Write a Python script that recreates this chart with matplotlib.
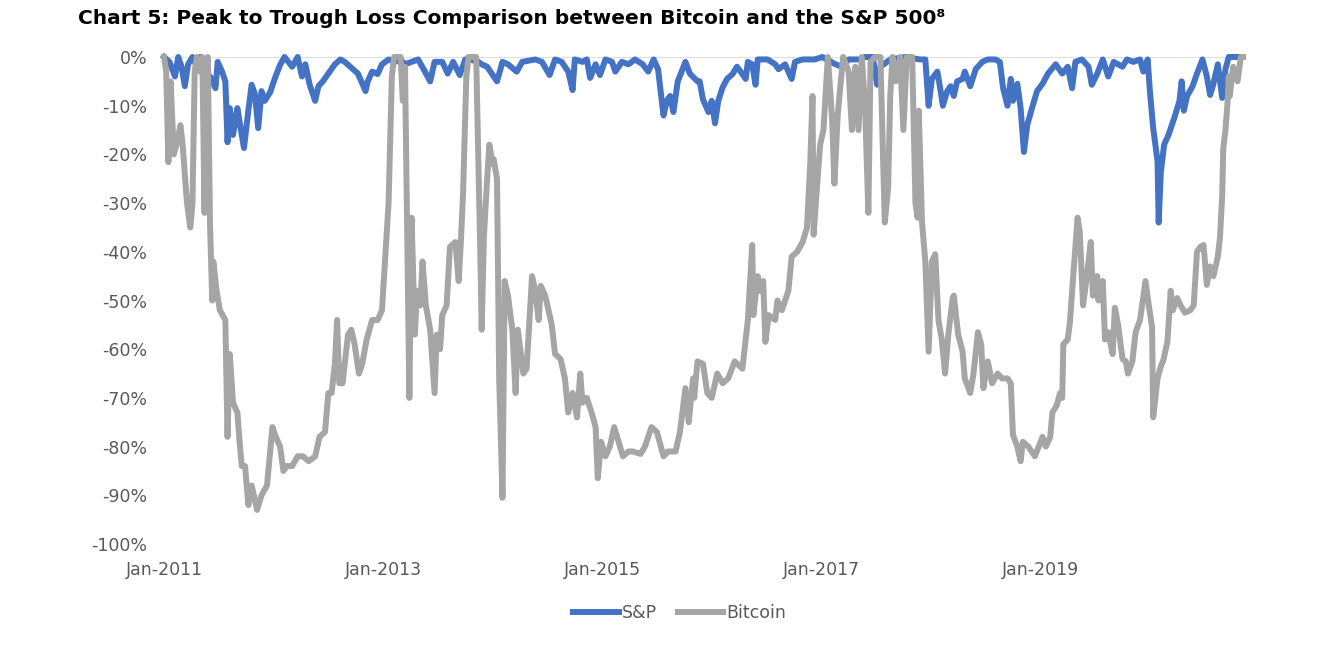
import matplotlib.pyplot as plt

# x values are decimal years, values are drawdown in %
sp_dates = [2011.00, 2011.05, 2011.10, 2011.13, 2011.16, 2011.19, 2011.22, 2011.26, 2011.30, 2011.33,
            2011.37, 2011.42, 2011.47, 2011.49, 2011.53, 2011.56, 2011.58, 2011.60, 2011.63, 2011.67,
            2011.69, 2011.73, 2011.77, 2011.80, 2011.83, 2011.86, 2011.89, 2011.92, 2011.97, 2012.01,
            2012.06, 2012.10, 2012.17, 2012.22, 2012.26, 2012.29, 2012.33, 2012.38, 2012.41, 2012.45,
            2012.50, 2012.56, 2012.61, 2012.65, 2012.70, 2012.77, 2012.84, 2012.86, 2012.90, 2012.95,
            2012.99, 2013.05, 2013.11, 2013.16, 2013.20, 2013.26, 2013.32, 2013.37, 2013.43, 2013.47,
            2013.54, 2013.59, 2013.64, 2013.70, 2013.75, 2013.79, 2013.87, 2013.90, 2013.95, 2014.04,
            2014.09, 2014.14, 2014.22, 2014.27, 2014.39, 2014.45, 2014.52, 2014.57, 2014.63, 2014.69,
            2014.73, 2014.75, 2014.82, 2014.86, 2014.89, 2014.94, 2014.98, 2015.03, 2015.09, 2015.12,
            2015.18, 2015.24, 2015.30, 2015.37, 2015.42, 2015.47, 2015.51, 2015.56, 2015.59, 2015.62,
            2015.65, 2015.69, 2015.76, 2015.80, 2015.87, 2015.89, 2015.92, 2015.97, 2016.00, 2016.03,
            2016.06, 2016.10, 2016.14, 2016.19, 2016.23, 2016.28, 2016.31, 2016.33, 2016.37, 2016.40,
            2016.42, 2016.51, 2016.58, 2016.61, 2016.67, 2016.73, 2016.76, 2016.83, 2016.88, 2016.94,
            2017.01, 2017.13, 2017.19, 2017.25, 2017.36, 2017.40, 2017.47, 2017.51, 2017.54, 2017.63,
            2017.77, 2017.90, 2017.95, 2017.98, 2018.01, 2018.06, 2018.09, 2018.11, 2018.15, 2018.18,
            2018.21, 2018.24, 2018.29, 2018.31, 2018.36, 2018.41, 2018.47, 2018.52, 2018.59, 2018.63,
            2018.66, 2018.70, 2018.73, 2018.75, 2018.79, 2018.82, 2018.85, 2018.88, 2018.93, 2018.97,
            2019.02, 2019.07, 2019.14, 2019.20, 2019.25, 2019.29, 2019.32, 2019.38, 2019.44, 2019.47,
            2019.52, 2019.57, 2019.62, 2019.67, 2019.75, 2019.79, 2019.85, 2019.91, 2019.94, 2019.98,
            2020.00, 2020.03, 2020.07, 2020.08, 2020.10, 2020.13, 2020.17, 2020.20, 2020.23, 2020.27,
            2020.29, 2020.31, 2020.34, 2020.39, 2020.43, 2020.48, 2020.52, 2020.55, 2020.58, 2020.62,
            2020.66, 2020.69, 2020.72, 2020.85]
sp_values = [0, -1, -4, 0, -2, -6, -1.5, 0, -2, 0,
             -3, -4, -6.4, -1, -3, -5, -17.5, -10.5, -16, -10.5,
             -13.3, -18.7, -11, -5.7, -7.6, -14.6, -7, -9, -7.2, -4.5,
             -1.6, 0, -2, 0, -4, -1.5, -5.7, -9, -6, -5,
             -3.4, -1.5, -0.5, -1, -2, -3.4, -7, -5, -3, -3.5,
             -1.5, -0.5, -1, -0.5, -1.5, -1, -0.5, -2.5, -5, -1,
             -1, -3.4, -1, -3.7, -0.5, -0.5, -1, -1.5, -2, -5,
             -1, -1.5, -3, -1, -0.5, -1, -3.7, -0.5, -1, -3,
             -6.8, -0.5, -1, -0.5, -4.3, -1.5, -3.7, -0.5, -1, -3,
             -1, -1.5, -0.5, -1.5, -3, -0.5, -2.5, -12, -9, -8,
             -11.3, -5, -1, -3.4, -5, -5, -8.7, -11.3, -9, -13.6,
             -9, -6.2, -4.5, -3.5, -2, -3.5, -4.5, -1, -1.5, -5.7,
             -0.5, -0.5, -1.5, -2.5, -1.5, -4.5, -1, -0.5, -0.5, -0.5,
             0, -1.5, -2, -0.5, -0.5, 0, 0, -5.7, -2, -0.5,
             0, -0.5, -0.5, -10, -4.5, -3, -7, -10, -7, -6,
             -8, -5, -4.5, -3, -6, -2.5, -1, -0.5, -0.5, -1,
             -6.4, -10, -4.5, -9, -5.5, -10.5, -19.5, -14, -10, -7,
             -5.5, -3.4, -1.5, -3.4, -2, -6.4, -1, -0.5, -2, -5.7,
             -3.4, -0.5, -4, -1, -2, -0.5, -1, -0.5, -3, -0.5,
             -7, -14.6, -21.4, -34, -23.6, -18, -16, -14, -12, -9,
             -5, -11, -8, -6, -3.4, -0.5, -4, -7.8, -5.5, -1.5,
             -8.4, -2.5, 0, 0]

btc_dates = [2011.00, 2011.02, 2011.04, 2011.06, 2011.09, 2011.12, 2011.15, 2011.17, 2011.21, 2011.24,
             2011.26, 2011.28, 2011.30, 2011.33, 2011.35, 2011.37, 2011.38, 2011.40, 2011.42, 2011.44,
             2011.45, 2011.48, 2011.51, 2011.56, 2011.58, 2011.60, 2011.63, 2011.67, 2011.69, 2011.71,
             2011.74, 2011.77, 2011.80, 2011.85, 2011.89, 2011.94, 2011.99, 2012.02, 2012.06, 2012.09,
             2012.12, 2012.17, 2012.22, 2012.27, 2012.32, 2012.38, 2012.42, 2012.47, 2012.50, 2012.53,
             2012.56, 2012.58, 2012.60, 2012.63, 2012.68, 2012.71, 2012.74, 2012.78, 2012.81, 2012.85,
             2012.90, 2012.95, 2012.99, 2013.02, 2013.05, 2013.08, 2013.10, 2013.16, 2013.18, 2013.20,
             2013.24, 2013.26, 2013.29, 2013.31, 2013.34, 2013.36, 2013.39, 2013.43, 2013.47, 2013.49,
             2013.52, 2013.54, 2013.58, 2013.61, 2013.66, 2013.69, 2013.71, 2013.73, 2013.76, 2013.78,
             2013.85, 2013.89, 2013.90, 2013.92, 2013.95, 2013.97, 2014.00, 2014.01, 2014.04, 2014.06,
             2014.09, 2014.11, 2014.14, 2014.18, 2014.21, 2014.23, 2014.28, 2014.31, 2014.36, 2014.39,
             2014.42, 2014.44, 2014.48, 2014.51, 2014.54, 2014.57, 2014.62, 2014.66, 2014.69, 2014.73,
             2014.77, 2014.80, 2014.82, 2014.86, 2014.91, 2014.94, 2014.96, 2014.99, 2015.03, 2015.07,
             2015.11, 2015.15, 2015.19, 2015.24, 2015.28, 2015.35, 2015.39, 2015.45, 2015.50, 2015.56,
             2015.60, 2015.67, 2015.71, 2015.76, 2015.79, 2015.83, 2015.84, 2015.87, 2015.92, 2015.96,
             2016.00, 2016.05, 2016.10, 2016.15, 2016.21, 2016.28, 2016.31, 2016.33, 2016.37, 2016.38,
             2016.42, 2016.44, 2016.47, 2016.49, 2016.52, 2016.58, 2016.60, 2016.64, 2016.70, 2016.73,
             2016.78, 2016.83, 2016.87, 2016.90, 2016.92, 2016.93, 2016.96, 2016.99, 2017.02, 2017.05,
             2017.06, 2017.10, 2017.12, 2017.15, 2017.17, 2017.20, 2017.25, 2017.28, 2017.31, 2017.34,
             2017.37, 2017.40, 2017.43, 2017.45, 2017.49, 2017.54, 2017.58, 2017.61, 2017.63, 2017.65,
             2017.68, 2017.72, 2017.75, 2017.78, 2017.83, 2017.86, 2017.88, 2017.89, 2017.92, 2017.95,
             2017.98, 2018.01, 2018.04, 2018.07, 2018.10, 2018.13, 2018.16, 2018.20, 2018.21, 2018.25,
             2018.29, 2018.31, 2018.36, 2018.39, 2018.43, 2018.46, 2018.48, 2018.52, 2018.56, 2018.61,
             2018.65, 2018.70, 2018.73, 2018.75, 2018.79, 2018.82, 2018.84, 2018.89, 2018.95, 2019.02,
             2019.05, 2019.09, 2019.11, 2019.15, 2019.18, 2019.20, 2019.21, 2019.25, 2019.27, 2019.30,
             2019.34, 2019.36, 2019.39, 2019.43, 2019.46, 2019.48, 2019.52, 2019.53, 2019.57, 2019.59,
             2019.62, 2019.66, 2019.68, 2019.71, 2019.75, 2019.78, 2019.80, 2019.84, 2019.87, 2019.91,
             2019.96, 2019.99, 2020.02, 2020.03, 2020.07, 2020.10, 2020.12, 2020.16, 2020.19, 2020.21,
             2020.25, 2020.28, 2020.32, 2020.37, 2020.40, 2020.43, 2020.46, 2020.49, 2020.52, 2020.55,
             2020.58, 2020.62, 2020.64, 2020.66, 2020.67, 2020.69, 2020.71, 2020.72, 2020.73, 2020.76,
             2020.80, 2020.83, 2020.85]
btc_values = [0, -3, -21.6, -5, -20, -17.5, -14, -18, -30, -35,
              -30, -3, 0, -3, 0, -32, -5, 0, -34, -50,
              -42, -48, -52, -54, -78, -61, -71, -73, -79, -84,
              -84, -92, -88, -93, -90, -88, -76, -78, -80, -85,
              -84, -84, -82, -82, -83, -82, -78, -77, -69, -69,
              -63, -54, -67, -67, -57, -56, -59, -65, -63, -58,
              -54, -54, -52, -41, -30, -4, 0, 0, -9, -2,
              -70, -33, -57, -48, -51, -42, -51, -56, -69, -57,
              -60, -53, -51, -39, -38, -46, -38, -28, -4, 0,
              0, -43, -56, -37, -25, -18, -22, -21, -25, -66,
              -90.5, -46, -49, -56, -69, -56, -65, -64, -45, -48,
              -54, -47, -49, -52, -55, -61, -62, -66, -73, -69,
              -74, -65, -71, -70, -73.5, -76, -86.5, -79, -82, -80,
              -76, -79, -82, -81, -81, -81.5, -80, -76, -77, -82,
              -81, -81, -77, -68, -75, -66, -70, -62.5, -63, -69,
              -70, -65, -67, -66, -62.5, -64, -58, -54, -38.6, -53,
              -45, -48, -46, -58.5, -53, -54, -50, -52, -48, -41,
              -40, -38, -35, -21.5, -8, -36.5, -27, -18, -15, -4,
              0, -13, -26, -12, -7, 0, -3, -15, -2, -15,
              0, -10, -32, -1, 0, 0, -34, -27, -8, 0,
              -5, 0, -15, 0, 0, -30, -33, -11, -34, -42,
              -60.5, -42, -40.5, -54, -58, -65, -57, -49.5, -49, -57,
              -60.5, -66, -69, -65, -56.5, -59, -68, -62.5, -67, -65,
              -66, -66, -67, -77.6, -80, -83, -79, -80, -82, -78,
              -80, -78, -73, -71.5, -69, -70, -59, -58, -54.5, -45,
              -33, -36, -51, -44, -38, -49, -45, -50, -46, -58,
              -56.5, -61, -51.5, -55, -62, -62.5, -65, -62.5, -56.5, -54,
              -46, -51, -55.5, -74, -66, -63.5, -62.5, -58.5, -48, -52,
              -49.5, -51, -52.5, -52, -51, -40, -39, -38.6, -46.8, -43,
              -45, -41, -37, -28.5, -18.7, -15, -9, -4, -8, -2,
              -5, 0, 0]

tick_years = [2011, 2013, 2015, 2017, 2019]
tick_labels = ["Jan-2011", "Jan-2013", "Jan-2015", "Jan-2017", "Jan-2019"]

fig = plt.figure(figsize=(13.42, 6.59), dpi=100)
ax = fig.add_axes([164 / 1342, 1 - 544 / 659, (1243 - 164) / 1342, (544 - 57) / 659])

ax.axhline(0, color="#D9D9D9", lw=1.2, zorder=1)
ax.plot(sp_dates, sp_values, color="#4472C4", lw=4.3, label="S&P", zorder=2,
        solid_joinstyle="round", clip_on=False)
ax.plot(btc_dates, btc_values, color="#A5A5A5", lw=4.3, label="Bitcoin", zorder=3,
        solid_joinstyle="round", clip_on=False)

ax.set_xlim(2011, 2020.85)
ax.set_ylim(-100, 0)
ax.set_yticks(range(-100, 1, 10))
ax.set_yticklabels([f"{v}%" for v in range(-100, 1, 10)])
ax.set_xticks(tick_years)
ax.set_xticklabels(tick_labels)
ax.tick_params(length=0, labelsize=12.5, labelcolor="#595959")
ax.tick_params(axis="y", pad=12)
ax.tick_params(axis="x", pad=12)
for s in ax.spines.values():
    s.set_visible(False)

fig.text(78 / 1342, 1 - 18 / 659, "Chart 5: Peak to Trough Loss Comparison between Bitcoin and the S&P 500⁸",
         fontsize=14.5, fontweight="bold", ha="left", va="center")

fig.legend(loc="center", bbox_to_anchor=(680 / 1342, 1 - 613 / 659), ncol=2, frameon=False,
           fontsize=12.5, labelcolor="#595959", handlelength=2.6, handletextpad=0.2,
           columnspacing=1.2)

plt.savefig("out.png", dpi=100)
